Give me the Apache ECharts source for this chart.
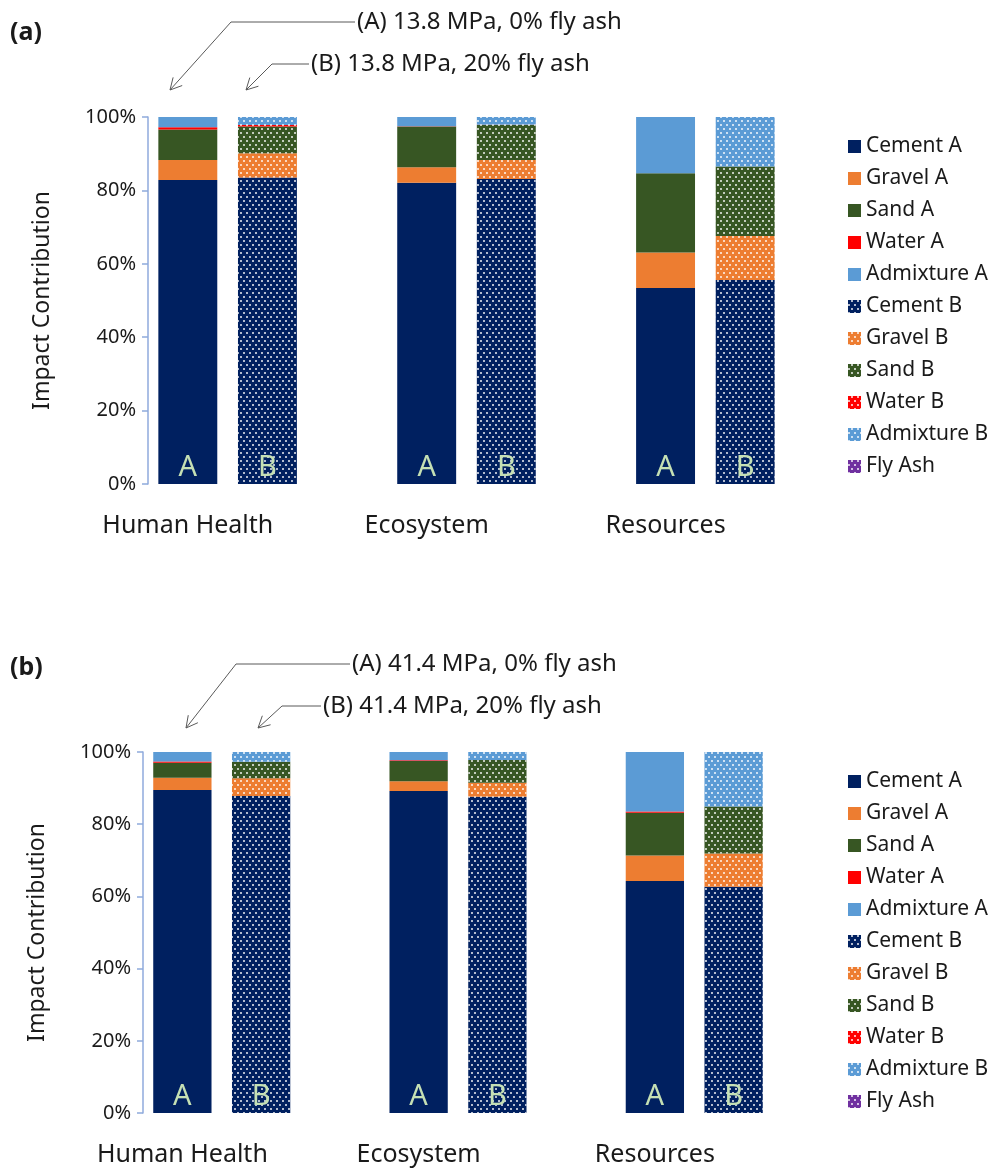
<!DOCTYPE html>
<html>
<head>
<meta charset="utf-8">
<script src="https://cdn.jsdelivr.net/npm/echarts@6/dist/echarts.min.js"></script>
<style>
  html, body { margin: 0; padding: 0; background: #fff; }
  #main { width: 999px; height: 1169px; }
</style>
</head>
<body>
<div id="main"></div>
<script>
// impact categories (x axis)
const impactCategories = ['Human Health', 'Ecosystem', 'Resources'];
const legendNames = ['Cement A', 'Gravel A', 'Sand A', 'Water A', 'Admixture A',
  'Cement B', 'Gravel B', 'Sand B', 'Water B', 'Admixture B', 'Fly Ash'];
const yTicks = [0, 20, 40, 60, 80, 100];

// (a) 13.8 MPa -- contribution in %
const a_cementA = [82.8, 82.1, 53.4];
const a_gravelA = [5.5, 4.2, 9.7];
const a_sandA   = [8.3, 11.1, 21.6];
const a_waterA  = [0.6, 0.1, 0.0];
const a_admixA  = [2.8, 2.5, 15.3];
const a_cementB = [83.5, 83.1, 55.6];
const a_gravelB = [6.6, 5.2, 12.0];
const a_sandB   = [7.3, 9.5, 18.9];
const a_waterB  = [0.4, 0.1, 0.0];
const a_admixB  = [2.2, 2.1, 13.5];
const a_flyAsh  = [0.0, 0.0, 0.0];

// (b) 41.4 MPa
const b_cementA = [89.5, 89.2, 64.3];
const b_gravelA = [3.4, 2.7, 7.0];
const b_sandA   = [4.1, 5.6, 11.9];
const b_waterA  = [0.4, 0.2, 0.3];
const b_admixA  = [2.6, 2.3, 16.5];
const b_cementB = [87.8, 87.6, 62.7];
const b_gravelB = [4.9, 3.9, 9.2];
const b_sandB   = [4.6, 6.3, 13.0];
const b_waterB  = [0.0, 0.0, 0.0];
const b_admixB  = [2.7, 2.2, 15.1];
const b_flyAsh  = [0.0, 0.0, 0.0];

const colors = {
  Cement: '#002060', Gravel: '#ED7D31', Sand: '#375623',
  Water: '#FF0000', Admixture: '#5B9BD5', Fly: '#7030A0'
};
const FONT = 'Noto Sans';

// slots on the x axis: A, B, gap, A, B, gap, A, B
const slotLabels = ['Human Health', 'hh-b', 'hh-gap', 'Ecosystem', 'eco-b', 'eco-gap', 'Resources', 'res-b'];

function expand(values, offset) {
  const out = [];
  for (let i = 0; i < slotLabels.length; i++) out.push('-');
  values.forEach(function (v, k) { out[k * 3 + offset] = v; });
  return out;
}

const dotDecal = {
  symbol: 'rect',
  symbolSize: 1,
  color: 'rgba(255,255,255,0.7)',
  dashArrayX: [[2, 4], [0, 3, 2, 1]],
  dashArrayY: [2, 1.5]
};

function makeSeries(chartIdx, d) {
  const list = [
    ['Cement A', d.cementA, 0, colors.Cement, false],
    ['Gravel A', d.gravelA, 0, colors.Gravel, false],
    ['Sand A', d.sandA, 0, colors.Sand, false],
    ['Water A', d.waterA, 0, colors.Water, false],
    ['Admixture A', d.admixA, 0, colors.Admixture, false],
    ['Cement B', d.cementB, 1, colors.Cement, true],
    ['Gravel B', d.gravelB, 1, colors.Gravel, true],
    ['Sand B', d.sandB, 1, colors.Sand, true],
    ['Water B', d.waterB, 1, colors.Water, true],
    ['Admixture B', d.admixB, 1, colors.Admixture, true],
    ['Fly Ash', d.flyAsh, 1, colors.Fly, true]
  ];
  return list.map(function (s) {
    const isCement = s[0].indexOf('Cement') === 0;
    return {
      name: s[0],
      type: 'bar',
      stack: 'mix' + chartIdx,
      xAxisIndex: chartIdx,
      yAxisIndex: chartIdx,
      barWidth: '74%',
      data: expand(s[1], s[2]),
      itemStyle: s[4] ? { color: s[3], decal: dotDecal } : { color: s[3] },
      label: {
        show: isCement,
        position: 'insideBottom',
        distance: 2,
        formatter: s[2] === 0 ? 'A' : 'B',
        color: '#C5E0B4',
        fontSize: 29,
        fontFamily: FONT
      }
    };
  });
}

function arrowLine(pts) {
  const n = pts.length;
  const tip = pts[n - 1], prev = pts[n - 2];
  const dx = prev[0] - tip[0], dy = prev[1] - tip[1];
  const len = Math.sqrt(dx * dx + dy * dy);
  const ux = dx / len, uy = dy / len;
  const a = 28 * Math.PI / 180, L = 13;
  const h1 = [tip[0] + L * (ux * Math.cos(a) - uy * Math.sin(a)), tip[1] + L * (ux * Math.sin(a) + uy * Math.cos(a))];
  const h2 = [tip[0] + L * (ux * Math.cos(-a) - uy * Math.sin(-a)), tip[1] + L * (ux * Math.sin(-a) + uy * Math.cos(-a))];
  const st = { stroke: '#595959', lineWidth: 1, fill: null };
  return [
    { type: 'polyline', shape: { points: pts }, style: st },
    { type: 'polyline', shape: { points: [h1, tip, h2] }, style: st }
  ];
}

function txt(x, y, s, opts) {
  return {
    type: 'text', x: x, y: y,
    style: Object.assign({ text: s, fill: '#1a1a1a', font: '24px "' + FONT + '"', textVerticalAlign: 'middle' }, opts || {})
  };
}

const chart = echarts.init(document.getElementById('main'));

const grids = [
  { left: 148, top: 117, width: 637, height: 367 },
  { left: 143, top: 752, width: 630, height: 361 }
];

function xAxisFor(i) {
  return {
    type: 'category', gridIndex: i, data: slotLabels,
    axisLine: { show: false }, axisTick: { show: false },
    axisLabel: {
      interval: 0, margin: 29, fontSize: 25, color: '#1a1a1a', fontFamily: FONT,
      formatter: function (v) { return impactCategories.indexOf(v) >= 0 ? v : ''; }
    }
  };
}

function yAxisFor(i) {
  return {
    type: 'value', gridIndex: i, min: yTicks[0], max: yTicks[yTicks.length - 1], interval: 20,
    name: 'Impact Contribution', nameLocation: 'middle', nameGap: 94,
    nameTextStyle: { fontSize: 23, color: '#1a1a1a', fontFamily: FONT },
    splitLine: { show: false },
    axisLine: { show: true, lineStyle: { color: '#8FAADC', width: 1.5 } },
    axisTick: { show: true, length: 6, lineStyle: { color: '#8FAADC', width: 1.5 } },
    axisLabel: { formatter: '{value}%', fontSize: 20, color: '#1a1a1a', fontFamily: FONT, margin: 12 }
  };
}

function legendFor(top) {
  return {
    data: legendNames, orient: 'vertical', left: 843, top: top,
    itemWidth: 13, itemHeight: 13, itemGap: 11, icon: 'rect',
    textStyle: { fontSize: 21, color: '#1a1a1a', fontFamily: FONT, lineHeight: 20 },
    selectedMode: false
  };
}

const graphics = [].concat(
  [txt(10, 33, '(a)', { font: 'bold 25px "' + FONT + '"' })],
  [txt(357, 22, '(A) 13.8 MPa, 0% fly ash')],
  arrowLine([[355, 22], [231, 22], [170, 90]]),
  [txt(311, 64, '(B) 13.8 MPa, 20% fly ash')],
  arrowLine([[309, 64], [272, 64], [246, 90]]),
  [txt(10, 668, '(b)', { font: 'bold 25px "' + FONT + '"' })],
  [txt(352, 664, '(A) 41.4 MPa, 0% fly ash')],
  arrowLine([[350, 664], [236, 664], [186, 728]]),
  [txt(323, 706, '(B) 41.4 MPa, 20% fly ash')],
  arrowLine([[321, 706], [282, 706], [258, 728]])
);

const seriesA = makeSeries(0, {
  cementA: a_cementA, gravelA: a_gravelA, sandA: a_sandA, waterA: a_waterA, admixA: a_admixA,
  cementB: a_cementB, gravelB: a_gravelB, sandB: a_sandB, waterB: a_waterB, admixB: a_admixB, flyAsh: a_flyAsh
});
const seriesB = makeSeries(1, {
  cementA: b_cementA, gravelA: b_gravelA, sandA: b_sandA, waterA: b_waterA, admixA: b_admixA,
  cementB: b_cementB, gravelB: b_gravelB, sandB: b_sandB, waterB: b_waterB, admixB: b_admixB, flyAsh: b_flyAsh
});

chart.setOption({
  animation: false,
  textStyle: { fontFamily: FONT },
  grid: grids,
  xAxis: [xAxisFor(0), xAxisFor(1)],
  yAxis: [yAxisFor(0), yAxisFor(1)],
  legend: [legendFor(131), legendFor(766)],
  graphic: graphics,
  series: seriesA.concat(seriesB)
});
</script>
</body>
</html>
